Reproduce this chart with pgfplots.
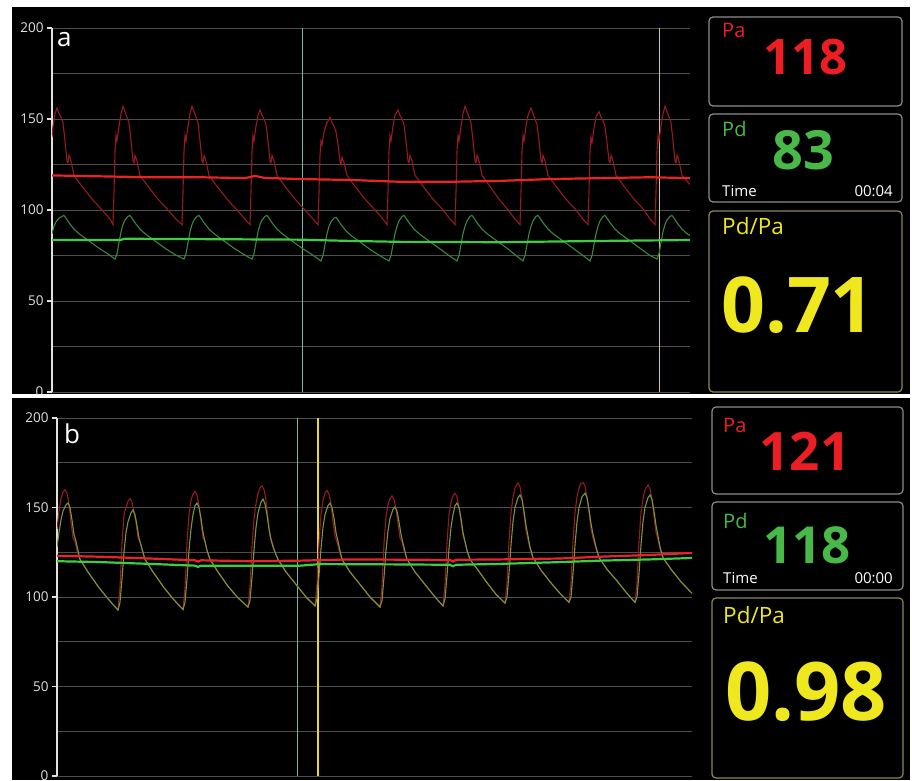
\documentclass[border=0pt]{standalone}
\usepackage{pgfplots}
\pgfplotsset{compat=1.18}
\usepackage{fontspec}
\setmainfont{Open Sans}
\newfontfamily\os{Open Sans}
\definecolor{paDark}{RGB}{150,26,34}
\definecolor{paMean}{RGB}{232,36,40}
\definecolor{pdDark}{RGB}{58,135,66}
\definecolor{pdMean}{RGB}{60,205,64}
\definecolor{pdOlive}{RGB}{120,150,60}
\definecolor{gridc}{RGB}{78,78,78}
\definecolor{axisc}{RGB}{225,225,225}
\definecolor{cursC}{RGB}{120,180,168}
\definecolor{cursY}{RGB}{215,200,95}
\definecolor{cursY2}{RGB}{235,215,40}
\definecolor{bigR}{RGB}{236,30,36}
\definecolor{bigG}{RGB}{72,185,72}
\definecolor{bigY}{RGB}{240,232,30}
\definecolor{boxg}{RGB}{140,140,140}
\definecolor{boxy}{RGB}{140,135,95}
\pgfplotsset{monitor/.style={scale only axis, axis x line*=bottom, axis y line*=left,
  ymin=0, ymax=200, ytick={0,50,100,150,200}, minor ytick={25,75,125,175},
  ymajorgrids, yminorgrids,
  major grid style={gridc, line width=0.9pt}, minor grid style={gridc, line width=0.9pt},
  axis line style={axisc, line width=1.1pt}, x axis line style={draw=none},
  tick style={axisc, line width=1.1pt},
  tick align=outside, major tick length=5pt, minor tick length=0pt,
  yticklabel style={font=\os\fontsize{13.5}{14}\selectfont, text=axisc},
  /pgf/number format/assume math mode=true, xtick=\empty, clip=true}}
\begin{document}
\begin{tikzpicture}[x=1pt,y=1pt]
\path[use as bounding box] (0,0) rectangle (912,780);
\fill[white] (0,0) rectangle (912,780);
\fill[black] (12,386) rectangle (910,773);
\fill[black] (12,0) rectangle (910,382);
% ---------------- top panel ----------------
\begin{scope}
\clip (12,386) rectangle (910,773);
\begin{axis}[monitor, at={(52pt,388pt)}, anchor=south west, width=638pt, height=364pt, xmin=52, xmax=690]
\addplot[cursC, line width=1pt] coordinates {(302,0) (302,200)};
\addplot[cursY, line width=1pt] coordinates {(659,0) (659,200)};
\addplot[paDark, line width=1.1pt] coordinates {
(52,140)(53,146)(55,153)(57,156)(59,153)(61,151)(63,148)(65,138)(67,127)(68,126)(69,130)(71,127)(74,119)(82,113)(92,106)(102,100)(110,95)(113,92)
(114,110)(115,132)(116,141)(117,138)(119,146)(121,153)(123,157)(125,154)(127,151)(129,148)(131,138)(133,127)(134,126)(135,130)(137,127)(140,119)(148,113)(158,106)(168,100)(176,95)(182,92)
(183,110)(184,132)(185,141)(186,138)(188,146)(190,153)(192,157)(194,154)(196,151)(198,148)(200,138)(202,127)(203,126)(204,130)(206,127)(209,119)(217,113)(227,106)(237,100)(245,95)(250,92)
(251,110)(252,132)(253,141)(254,138)(256,146)(258,152)(260,155)(262,152)(264,150)(266,147)(268,138)(270,127)(271,126)(272,130)(274,127)(277,119)(285,113)(295,106)(305,100)(313,95)(318,92)
(319,110)(320,130)(321,138)(322,136)(324,143)(327,148)(330,151)(332,148)(334,146)(336,143)(338,136)(340,127)(341,125)(342,129)(344,126)(347,119)(355,113)(365,106)(375,100)(383,95)(387,92)
(388,110)(389,132)(390,141)(391,138)(393,146)(395,152)(398,155)(400,152)(402,150)(404,147)(406,138)(408,127)(409,126)(410,130)(412,127)(415,119)(423,113)(433,106)(443,100)(450,95)(455,92)
(456,110)(457,132)(458,141)(459,138)(461,146)(463,153)(465,157)(467,154)(469,151)(471,148)(473,138)(475,127)(476,126)(477,130)(479,127)(482,119)(490,113)(499,106)(508,100)(515,95)(520,92)
(521,110)(522,132)(523,141)(524,138)(526,146)(528,152)(531,156)(533,153)(535,150)(537,147)(539,138)(541,127)(542,126)(543,130)(545,127)(548,119)(556,113)(566,106)(576,100)(583,95)(588,92)
(589,110)(590,132)(591,140)(592,137)(594,145)(596,151)(599,154)(601,151)(603,149)(605,146)(607,137)(609,127)(610,126)(611,130)(613,127)(616,119)(624,113)(634,106)(644,100)(650,95)(655,92)
(656,110)(657,132)(658,141)(659,138)(661,146)(663,153)(665,157)(667,154)(669,151)(671,148)(673,138)(675,127)(676,126)(677,130)(679,127)(682,119)(690,114)};
\addplot[pdDark, line width=1.1pt] coordinates {
(52,87)(54,91)(56,93.5)(59,95.5)(62,96.5)(64,97)(66,95.5)(69,93)(74,89.5)(79,87)(89,83)(99,79)(109,75.5)(115,73)
(117,76)(119,82)(121,88)(123,92)(125,94.5)(128,96.5)(130,97)(132,95.5)(135,93)(140,89.5)(145,87)(155,83)(165,79)(175,75.5)(184,73)
(186,76)(188,82)(190,88)(192,92)(194,94.5)(197,96.5)(199,97)(201,95.5)(204,93)(209,89.5)(214,87)(224,83)(234,79)(244,75.5)(252,73)
(254,76)(256,82)(258,88)(260,92)(262,94.5)(265,96.5)(267,97)(269,95.5)(272,93)(277,89.5)(282,87)(292,83)(302,79)(312,75.5)(321,72)
(323,75)(325,81)(327,87)(329,91)(331,93.5)(334,95.5)(336,96)(338,94.5)(341,92)(346,88.5)(351,86)(361,82)(371,78)(381,74.5)(389,72)
(391,75)(393,81)(395,87)(397,91)(399,94)(402,96.5)(404,97)(406,95.5)(409,93)(414,89.5)(419,87)(429,83)(439,79)(449,75)(457,72)
(459,75)(461,81)(463,87)(465,91)(467,94)(470,96.5)(472,97)(474,95.5)(477,93)(482,89.5)(487,87)(497,83)(507,79)(516,75)(523,72)
(525,75)(527,81)(529,87)(531,91)(533,94)(536,96.5)(538,97)(540,95.5)(543,93)(548,89.5)(553,87)(563,83)(573,79)(583,75)(590,72)
(592,75)(594,81)(596,87)(598,91)(600,94)(603,96.5)(605,97)(607,95.5)(610,93)(615,89.5)(620,87)(630,83)(640,79)(650,75)(657,73)
(659,76)(661,82)(663,88)(665,92)(667,94.5)(670,96.5)(672,97)(674,95.5)(677,93)(682,89.5)(687,87)(690,86)};
\addplot[paMean, line width=2.2pt] coordinates {(52,119)(100,118.5)(150,118)(200,118)(245,117.5)(255,118.7)(265,117.6)(300,117)(350,116.5)(400,115.5)(450,115.5)(500,116)(550,117)(600,117.5)(650,118)(690,117.5)};
\addplot[pdMean, line width=2.2pt] coordinates {(52,83.5)(120,83.5)(125,84.2)(200,84)(300,83.7)(350,83)(400,82.5)(500,82.3)(600,83)(690,83.5)};
\end{axis}
\end{scope}
% ---------------- bottom panel ----------------
\begin{scope}
\clip (12,0) rectangle (910,382);
\begin{axis}[monitor, at={(57pt,4pt)}, anchor=south west, width=635pt, height=358pt, xmin=57, xmax=692]
\addplot[cursC, line width=1pt] coordinates {(297,0) (297,200)};
\addplot[cursY2, line width=1.2pt] coordinates {(318,0) (318,200)};
\addplot[paDark, line width=1.1pt] coordinates {
(57,138)(59,148)(61,155)(63,158.5)(65,160)(67,158)(69,152)(71,142)(73,133)(75,131)(77,126)(80,121)(88,114)(98,106)(108,99)(118,92.7)
(120,105)(122,130)(124,146)(126,150)(128,153.5)(130,155)(132,153)(134,147)(136,142)(138,133)(140,131)(142,126)(145,121)(153,114)(163,106)(173,99)(183,93)
(185,105)(187,130)(189,146)(191,154)(193,157.5)(195,159)(197,157)(199,151)(201,142)(203,133)(205,131)(207,126)(210,121)(218,114)(228,106)(238,99.5)(248,94.4)
(250,106)(252,128)(254,144)(256,152)(258,158)(260,161)(262,162)(264,160)(266,154)(268,144)(270,134)(272,131)(275,125)(278,121)(286,114)(296,107)(306,100)(315,95)
(317,107)(319,130)(321,146)(323,154)(325,158)(327,159.5)(329,157.5)(331,152)(333,142)(335,134)(337,131)(339,126)(342,121)(350,114)(360,107)(370,100)(380,94.4)
(382,106)(384,130)(386,145)(388,151.5)(390,155)(392,156.5)(394,154.5)(396,149)(398,141)(400,133)(402,131)(404,126)(407,121)(415,114)(425,107)(435,100)(443,95)
(445,107)(447,130)(449,146)(451,153)(453,156.5)(455,158)(457,156)(459,150)(461,142)(463,134)(465,131)(467,126)(470,121)(478,115)(487,108)(496,101.5)(505,96.6)
(507,108)(509,131)(511,147)(513,156)(515,161)(518,163.7)(520,161.5)(522,155)(524,146)(526,137)(528,132)(530,127)(533,122)(541,115)(550,108.5)(560,102)(569,97)
(571,108)(573,131)(575,147)(577,156)(579,161)(581,163.5)(583,164)(585,162)(587,156)(589,147)(591,138)(593,133)(596,127)(599,122)(607,115.5)(617,109)(627,102)(635,97)
(637,108)(639,131)(641,147)(643,155)(645,160)(648,162.5)(650,160.5)(652,154)(654,145)(656,136)(658,132)(660,127)(663,122)(671,115.5)(681,108.5)(692,102)};
\addplot[pdOlive, line width=1.1pt] coordinates {
(57,128)(59,136)(61,143)(63,148)(66,151.5)(68,152.5)(70,150)(72,143)(74,135)(76,131)(78,126)(80,121)(88,114)(98,106)(108,99)(118,92.7)
(120,97)(122,110)(124,125)(126,136)(128,142)(131,147)(133,148.6)(135,146)(137,140)(139,133)(141,129)(143,125)(145,121)(153,114)(163,106)(173,99)(183,93)
(185,97)(187,110)(189,126)(191,138)(193,146)(195,151)(197,152.5)(199,150)(201,144)(203,136)(205,131)(207,126)(210,121)(218,114)(228,106)(238,99.5)(248,94.4)
(250,98)(252,111)(254,126)(256,139)(258,147)(261,153)(263,154.7)(265,152)(267,146)(269,138)(271,132)(273,128)(275,125)(278,121)(286,114)(296,107)(306,100)(315,95)
(317,99)(319,112)(321,127)(323,139)(325,146)(328,151)(330,152.5)(332,150)(334,144)(336,136)(338,131)(340,126)(342,121)(350,114)(360,107)(370,100)(380,94.4)
(382,98)(384,111)(386,126)(388,137)(390,144)(393,149)(395,150.3)(397,148)(399,142)(401,135)(403,130)(405,125.5)(407,121)(415,114)(425,107)(435,100)(443,95)
(445,99)(447,112)(449,127)(451,139)(453,146)(455,151)(457,152.5)(459,150)(461,144)(463,136)(465,131)(467,126)(470,121)(478,115)(487,108)(496,101.5)(505,96.6)
(507,100)(509,113)(511,129)(513,142)(515,150)(518,155.5)(520,157)(522,154.5)(524,148)(526,140)(528,134)(530,128)(533,122)(541,115)(550,108.5)(560,102)(569,97)
(571,100)(573,113)(575,129)(577,142)(579,150)(582,156)(585,158)(587,155.5)(589,149)(591,141)(593,135)(596,128)(599,122)(607,115.5)(617,109)(627,102)(635,97)
(637,100)(639,113)(641,129)(643,142)(645,150)(648,155.5)(650,157)(652,154.5)(654,148)(656,140)(658,134)(660,128)(663,122)(671,115.5)(681,108.5)(692,102)};
\addplot[paMean, line width=2.2pt] coordinates {(57,123)(100,122.5)(150,121.5)(195,120.5)(198,119.8)(201,120.5)(250,120)(300,120.3)(350,121)(450,120.7)(453,119.8)(456,120.8)(500,121)(560,121.5)(600,122.5)(650,123.5)(692,124.6)};
\addplot[pdMean, line width=2.2pt] coordinates {(57,120)(100,119.5)(150,118.5)(195,117.5)(198,116.8)(201,117.5)(300,117.5)(320,118.4)(400,118.2)(450,118)(453,117.2)(456,118)(500,118.5)(560,119.5)(600,120.3)(650,121)(692,121.8)};
\end{axis}
\end{scope}
% panel letters
\node[anchor=base west, inner sep=0, text=white, font=\os\fontsize{26}{26}\selectfont] at (57,733) {a};
\node[anchor=base west, inner sep=0, text=white, font=\os\fontsize{26}{26}\selectfont] at (64,337) {b};
% ---------------- boxes top ----------------
\draw[boxg, line width=1.2pt, rounded corners=4pt] (709,674) rectangle (902,763);
\draw[boxg, line width=1.2pt, rounded corners=4pt] (709,578) rectangle (902,666);
\draw[boxy, line width=1.2pt, rounded corners=4pt] (709,388) rectangle (902,569);
\node[anchor=base west, inner sep=0, text=bigR, font=\os\fontsize{20}{20}\selectfont] at (722,742) {Pa};
\node[anchor=base, inner sep=0, text=bigR, font=\os\bfseries\fontsize{49}{49}\selectfont] at (805,705) {118};
\node[anchor=base west, inner sep=0, text=bigG, font=\os\fontsize{20}{20}\selectfont] at (722,643) {Pd};
\node[anchor=base, inner sep=0, text=bigG, font=\os\bfseries\fontsize{54}{54}\selectfont] at (803.5,610) {83};
\node[anchor=base west, inner sep=0, text=white, font=\os\fontsize{15}{15}\selectfont] at (722,583) {Time};
\node[anchor=base east, inner sep=0, text=white, font=\os\fontsize{15}{15}\selectfont] at (893,583) {00:04};
\node[anchor=base west, inner sep=0, text=bigY, font=\os\fontsize{22.5}{22.5}\selectfont] at (722,545) {Pd/Pa};
\node[anchor=base, inner sep=0, text=bigY, font=\os\bfseries\fontsize{77}{77}\selectfont] at (798,447) {0.71};
% ---------------- boxes bottom ----------------
\draw[boxg, line width=1.2pt, rounded corners=4pt] (712,286) rectangle (903,373);
\draw[boxg, line width=1.2pt, rounded corners=4pt] (712,190) rectangle (903,278);
\draw[boxy, line width=1.2pt, rounded corners=4pt] (712,2) rectangle (903,182);
\node[anchor=base west, inner sep=0, text=bigR, font=\os\fontsize{20}{20}\selectfont] at (723,348) {Pa};
\node[anchor=base, inner sep=0, text=bigR, font=\os\bfseries\fontsize{53}{53}\selectfont] at (805,310) {121};
\node[anchor=base west, inner sep=0, text=bigG, font=\os\fontsize{20}{20}\selectfont] at (723,252) {Pd};
\node[anchor=base, inner sep=0, text=bigG, font=\os\bfseries\fontsize{51}{51}\selectfont] at (807,217) {118};
\node[anchor=base west, inner sep=0, text=white, font=\os\fontsize{15}{15}\selectfont] at (723,197) {Time};
\node[anchor=base east, inner sep=0, text=white, font=\os\fontsize{15}{15}\selectfont] at (893,197) {00:00};
\node[anchor=base west, inner sep=0, text=bigY, font=\os\fontsize{22.5}{22.5}\selectfont] at (723,157) {Pd/Pa};
\node[anchor=base, inner sep=0, text=bigY, font=\os\bfseries\fontsize{81}{81}\selectfont] at (806,60) {0.98};
\end{tikzpicture}
\end{document}
